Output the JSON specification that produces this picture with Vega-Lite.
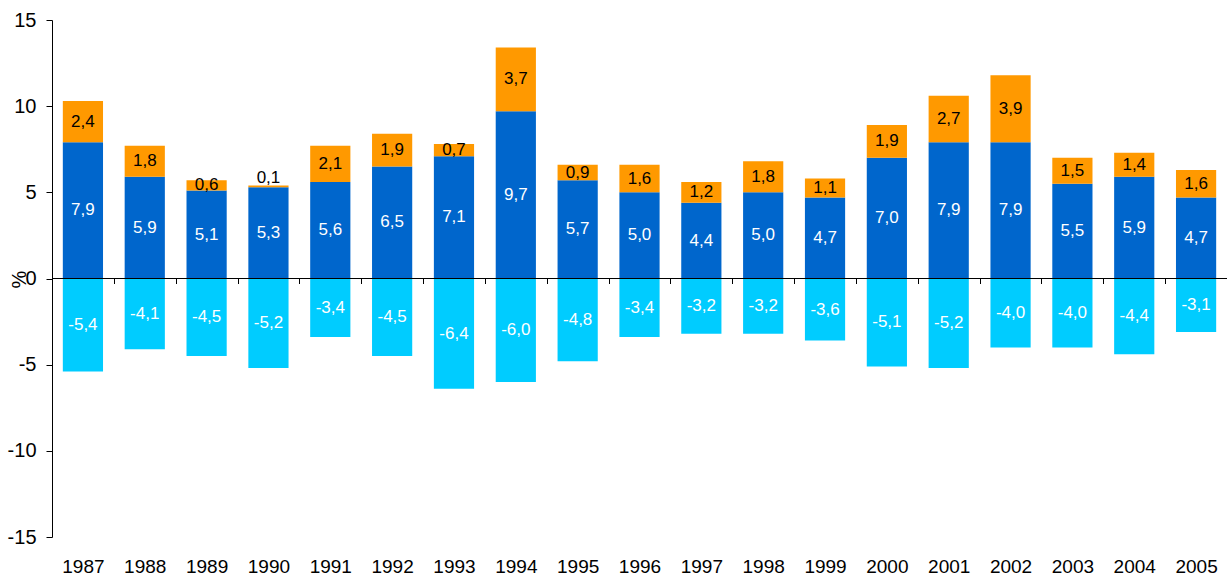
{
  "$schema": "https://vega.github.io/schema/vega-lite/v6.json",
  "autosize": {"type": "none"},
  "padding": {"left": 52, "top": 20, "right": 0, "bottom": 39},
  "width": 1175,
  "height": 517,
  "config": {
    "view": {"stroke": null},
    "font": "Liberation Sans",
    "locale": {"number": {"decimal": ",", "thousands": ".", "grouping": [3], "currency": ["", ""], "minus": "-"}}
  },
  "data": {"values": [
    {"year":"1987","series":"s1","order":1,"value":7.9},{"year":"1987","series":"s2","order":2,"value":2.4},{"year":"1987","series":"s3","order":3,"value":-5.4},
    {"year":"1988","series":"s1","order":1,"value":5.9},{"year":"1988","series":"s2","order":2,"value":1.8},{"year":"1988","series":"s3","order":3,"value":-4.1},
    {"year":"1989","series":"s1","order":1,"value":5.1},{"year":"1989","series":"s2","order":2,"value":0.6},{"year":"1989","series":"s3","order":3,"value":-4.5},
    {"year":"1990","series":"s1","order":1,"value":5.3},{"year":"1990","series":"s2","order":2,"value":0.1},{"year":"1990","series":"s3","order":3,"value":-5.2},
    {"year":"1991","series":"s1","order":1,"value":5.6},{"year":"1991","series":"s2","order":2,"value":2.1},{"year":"1991","series":"s3","order":3,"value":-3.4},
    {"year":"1992","series":"s1","order":1,"value":6.5},{"year":"1992","series":"s2","order":2,"value":1.9},{"year":"1992","series":"s3","order":3,"value":-4.5},
    {"year":"1993","series":"s1","order":1,"value":7.1},{"year":"1993","series":"s2","order":2,"value":0.7},{"year":"1993","series":"s3","order":3,"value":-6.4},
    {"year":"1994","series":"s1","order":1,"value":9.7},{"year":"1994","series":"s2","order":2,"value":3.7},{"year":"1994","series":"s3","order":3,"value":-6.0},
    {"year":"1995","series":"s1","order":1,"value":5.7},{"year":"1995","series":"s2","order":2,"value":0.9},{"year":"1995","series":"s3","order":3,"value":-4.8},
    {"year":"1996","series":"s1","order":1,"value":5.0},{"year":"1996","series":"s2","order":2,"value":1.6},{"year":"1996","series":"s3","order":3,"value":-3.4},
    {"year":"1997","series":"s1","order":1,"value":4.4},{"year":"1997","series":"s2","order":2,"value":1.2},{"year":"1997","series":"s3","order":3,"value":-3.2},
    {"year":"1998","series":"s1","order":1,"value":5.0},{"year":"1998","series":"s2","order":2,"value":1.8},{"year":"1998","series":"s3","order":3,"value":-3.2},
    {"year":"1999","series":"s1","order":1,"value":4.7},{"year":"1999","series":"s2","order":2,"value":1.1},{"year":"1999","series":"s3","order":3,"value":-3.6},
    {"year":"2000","series":"s1","order":1,"value":7.0},{"year":"2000","series":"s2","order":2,"value":1.9},{"year":"2000","series":"s3","order":3,"value":-5.1},
    {"year":"2001","series":"s1","order":1,"value":7.9},{"year":"2001","series":"s2","order":2,"value":2.7},{"year":"2001","series":"s3","order":3,"value":-5.2},
    {"year":"2002","series":"s1","order":1,"value":7.9},{"year":"2002","series":"s2","order":2,"value":3.9},{"year":"2002","series":"s3","order":3,"value":-4.0},
    {"year":"2003","series":"s1","order":1,"value":5.5},{"year":"2003","series":"s2","order":2,"value":1.5},{"year":"2003","series":"s3","order":3,"value":-4.0},
    {"year":"2004","series":"s1","order":1,"value":5.9},{"year":"2004","series":"s2","order":2,"value":1.4},{"year":"2004","series":"s3","order":3,"value":-4.4},
    {"year":"2005","series":"s1","order":1,"value":4.7},{"year":"2005","series":"s2","order":2,"value":1.6},{"year":"2005","series":"s3","order":3,"value":-3.1}
  ]},
  "transform": [
    {"stack": "value", "groupby": ["year"], "sort": [{"field": "order", "order": "ascending"}], "as": ["v0", "v1"], "offset": "zero"},
    {"calculate": "datum.value > 0 && datum.value < 0.3 ? datum.v1 + 0.45 : (datum.v0 + datum.v1) / 2", "as": "mid"}
  ],
  "layer": [
    {
      "mark": {"type": "bar", "width": {"band": 0.65}},
      "encoding": {
        "x": {"field": "year", "type": "nominal", "scale": {"paddingInner": 0, "paddingOuter": 0},
              "axis": {"orient": "bottom", "title": null, "domain": false, "ticks": true, "tickBand": "extent", "tickColor": "black", "tickWidth": 1, "tickSize": 5, "offset": -258.5, "zindex": 2,
                       "labelAngle": 0, "labelFontSize": 19, "labelColor": "black", "labelPadding": 274, "labelFont": "Liberation Sans"}},
        "y": {"field": "v0", "type": "quantitative", "scale": {"domain": [-15, 15], "nice": false},
              "axis": {"title": "%", "values": [-15, -10, -5, 0, 5, 10, 15], "grid": false, "domainColor": "black", "tickColor": "black", "tickSize": 6, "labelPadding": 10, "labelFontSize": 20, "labelColor": "black", "labelFont": "Liberation Sans", "format": "d",
                       "titleFontSize": 20, "titleFontWeight": "normal", "titleColor": "black", "titleFont": "Liberation Sans", "titleAngle": -90, "titleX": -33, "titleY": 259, "titleAlign": "center", "titleBaseline": "middle"}},
        "y2": {"field": "v1"},
        "color": {"field": "series", "type": "nominal", "scale": {"domain": ["s1", "s2", "s3"], "range": ["#0066CC", "#FF9900", "#00CCFF"]}, "legend": null}
      }
    },
    {
      "mark": {"type": "rule", "color": "black"},
      "encoding": {"y": {"datum": 0}}
    },
    {
      "mark": {"type": "text", "fontSize": 17, "font": "Liberation Sans"},
      "encoding": {
        "x": {"field": "year", "type": "nominal", "bandPosition": 0.5},
        "y": {"field": "mid", "type": "quantitative"},
        "text": {"field": "value", "type": "quantitative", "format": ".1f"},
        "color": {"condition": {"test": "datum.series === 's2'", "value": "black"}, "value": "white"}
      }
    }
  ]
}
